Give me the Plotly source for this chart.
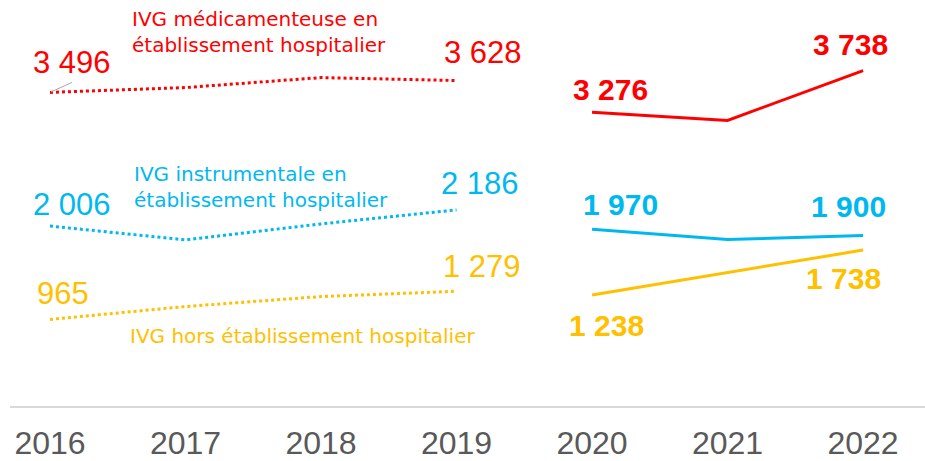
import plotly.graph_objects as go

years = ["2016", "2017", "2018", "2019", "2020", "2021", "2022"]
med = [3496, 3550, 3661, 3628, 3276, 3184, 3738]
instr = [2006, 1852, 2030, 2186, 1970, 1855, 1900]
hors = [965, 1109, 1220, 1279, 1238, 1486, 1738]

series_names = [
    "IVG médicamenteuse en<br>établissement hospitalier",
    "IVG instrumentale en<br>établissement hospitalier",
    "IVG hors établissement hospitalier",
]
colors = ["#FF0000", "#00B8F0", "#FFC000"]
labelled = ["2016", "2019", "2020", "2022"]

# label pixel offsets (dx, dy up) per series for labelled years
offsets = [
    [(22, 30), (26, 28), (18, 23), (-13, 26)],
    [(22, 22), (23, 26), (28, 25), (-15, 29)],
    [(13, 26), (25, 25), (14, -31), (-20, -28)],
]
name_pos = [(130, 32), (132, 188), (128, 338)]

fig = go.Figure()
all_series = [med, instr, hors]
for s, vals in enumerate(all_series):
    fig.add_trace(go.Scatter(x=years[:4], y=vals[:4], mode="lines",
                             line=dict(color=colors[s], width=3, dash="dot"),
                             hoverinfo="skip", showlegend=False))
    fig.add_trace(go.Scatter(x=years[4:], y=vals[4:], mode="lines",
                             line=dict(color=colors[s], width=3),
                             hoverinfo="skip", showlegend=False))

annotations = []
for s, vals in enumerate(all_series):
    for k, yr in enumerate(labelled):
        i = years.index(yr)
        v = vals[i]
        txt = f"{v:,}".replace(",", " ")
        bold = i >= 4
        if bold:
            txt = "<b>" + txt + "</b>"
        dx, dy = offsets[s][k]
        font = dict(family="Liberation Sans, Arial", size=30 if bold else 31,
                    color=colors[s])
        if s == 0 and i == 0:
            # label with a thin grey leader line
            annotations.append(dict(x=i, y=v, xref="x", yref="y", text=txt,
                                    showarrow=True, ax=22, ay=-10, arrowhead=0,
                                    xanchor="center", yanchor="bottom",
                                    arrowwidth=1, arrowcolor="#A6A6A6", standoff=1,
                                    font=font))
        else:
            annotations.append(dict(x=i, y=v, xref="x", yref="y", text=txt,
                                    showarrow=False, xshift=dx, yshift=dy,
                                    font=font))

W, H = 925, 461
L, B = 10, 53
pw, ph = W - L, H - B
for s, name in enumerate(series_names):
    px, py = name_pos[s]
    annotations.append(dict(x=(px - L) / pw, y=(H - B - py) / ph, xref="paper", yref="paper",
                            text=name, showarrow=False, xanchor="left", yanchor="middle",
                            align="left",
                            font=dict(family="DejaVu Sans", size=20, color=colors[s])))

fig.update_layout(
    width=W, height=H,
    margin=dict(l=L, r=0, t=0, b=B),
    paper_bgcolor="white", plot_bgcolor="white",
    annotations=annotations,
    xaxis=dict(type="category", range=[-0.295, 6.457], showgrid=False, zeroline=False,
               showline=True, linecolor="#D9D9D9", linewidth=2, ticks="",
               tickfont=dict(family="Liberation Sans, Arial", size=32, color="#595959"),
               ticklabelstandoff=8),
    yaxis=dict(range=[0, 4526], showticklabels=False, showline=False, ticks="",
               showgrid=False, zeroline=False),
)

fig.write_html("out.html", config={"displayModeBar": False},
               post_script="document.body.style.margin='0';")
